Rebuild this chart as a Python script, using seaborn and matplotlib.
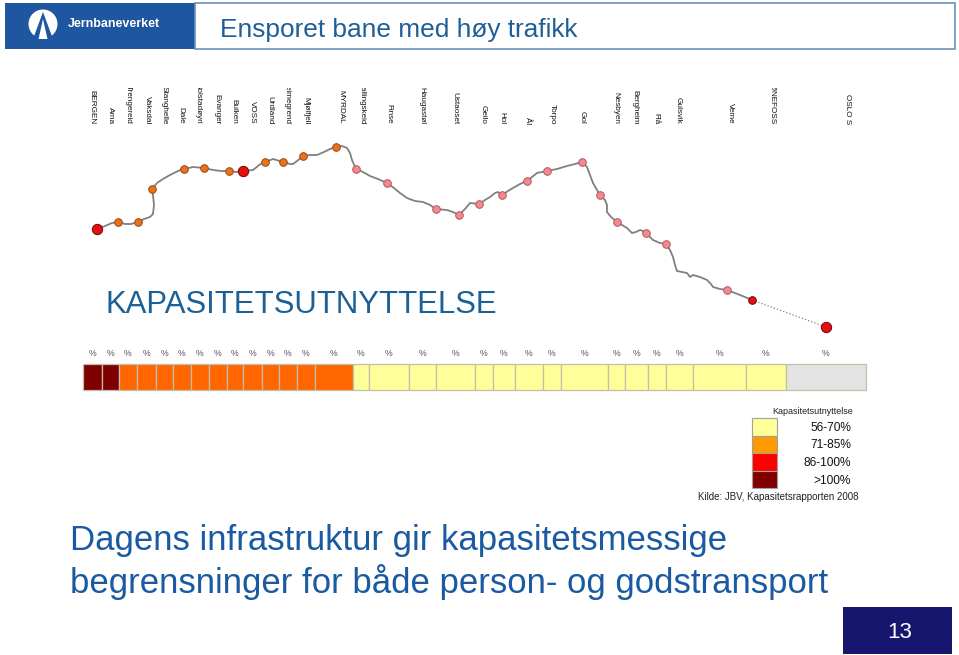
import matplotlib
matplotlib.use("Agg")
import matplotlib.pyplot as plt
import seaborn as sns
import pandas as pd
from matplotlib import font_manager as fm
from matplotlib.patches import Rectangle, Circle, Polygon

# ---------------- data ----------------
stations = ["BERGEN", "Arna", "Trengereid", "Vaksdal", "Stanghelle", "Dale",
            "Bolstadøyri", "Evanger", "Bulken", "VOSS", "Urdland", "Reimegrend",
            "Mjølfjell", "MYRDAL", "Hallingskeid", "Finse", "Haugastøl", "Ustaoset",
            "Geilo", "Hol", "Ål", "Torpo", "Gol", "Nesbyen", "Bergheim", "Flå",
            "Gulsvik", "Veme", "HØNEFOSS", "OSLO S"]
station_pos = [92, 110, 128, 147, 164, 181, 198, 217, 234, 252, 270, 287, 306,
               341, 362, 389, 422, 455, 483, 502, 527, 552, 582, 616, 635, 656,
               678, 730, 772, 848]

# stops on the profile (route position, profile level)
stop_x = [97, 118, 138, 152, 184, 204, 229, 243, 265, 283, 303, 336, 356, 387,
          436, 459, 479, 502, 527, 547, 582, 600, 617, 646, 666, 727, 752, 826]
stop_y = [229, 222, 222, 189, 169, 168, 171, 171, 162, 162, 156, 147, 169, 183,
          209, 215, 204, 195, 181, 171, 162, 195, 222, 233, 244, 290, 300, 327]
stop_level = (["86-100%"] + ["71-85%"] * 6 + ["86-100%"] + ["71-85%"] * 4 +
              ["56-70%"] * 14 + ["86-100%"] * 2)
stop_major = [1, 0, 0, 0, 0, 0, 0, 1, 0, 0, 0, 0] + [0] * 14 + [0, 1]

# profile curve
prof_x = [97, 105, 112, 118, 125, 131, 138, 144, 150, 153, 154, 153, 152, 157, 163,
          170, 178, 184, 193, 204, 213, 221, 229, 236, 243, 253, 258, 262, 265, 273,
          283, 290, 293, 297, 303, 310, 317, 324, 330, 336, 342, 347, 350, 352, 356,
          363, 370, 378, 387, 394, 400, 407, 415, 423, 430, 436, 447, 453, 459, 465,
          470, 479, 485, 490, 495, 498, 502, 508, 513, 520, 527, 532, 537, 547, 557,
          567, 575, 582, 587, 590, 593, 597, 600, 605, 607, 607, 611, 617, 622, 627,
          632, 636, 640, 643, 646, 650, 653, 660, 666, 670, 673, 675, 677, 682, 687,
          690, 693, 700, 707, 711, 713, 720, 727, 740, 752]
prof_y = [229, 226, 223, 222, 224, 224, 222, 219, 217, 214, 205, 195, 189, 183, 179,
          175, 171, 169, 167, 168, 170, 171, 171, 172, 171, 170, 166, 163, 162, 159,
          162, 164, 164, 161, 156, 155, 155, 152, 149, 147, 146, 148, 153, 160, 169,
          172, 176, 179, 183, 188, 193, 198, 201, 202, 205, 209, 210, 212, 215, 209,
          203, 204, 200, 197, 193, 192, 195, 191, 188, 184, 181, 177, 173, 171, 169,
          166, 164, 162, 167, 175, 183, 190, 195, 200, 205, 212, 217, 222, 225, 228,
          233, 232, 230, 231, 233, 237, 240, 243, 244, 250, 257, 265, 271, 272, 273,
          277, 275, 277, 280, 284, 287, 289, 290, 295, 300]
dotted_x = [752, 826]
dotted_y = [300, 327]

# capacity bar segments
seg_edges = [83, 102, 119, 137, 156, 173, 191, 209, 227, 243, 262, 279, 297, 315,
             353, 369, 409, 436, 475, 493, 515, 543, 561, 608, 625, 648, 666, 693,
             746, 786, 866]
seg_class = [">100%"] * 2 + ["71-85%"] * 12 + ["56-70%"] * 15 + ["ukjent"]

legend_labels = ["56-70%", "71-85%", "86-100%", ">100%"]

# ---------------- style ----------------
sns.set_theme(style="white")
plt.rcParams["font.family"] = ["Liberation Sans", "DejaVu Sans"]


def has_font(name):
    try:
        fm.findfont(fm.FontProperties(family=name), fallback_to_default=False)
        return True
    except Exception:
        return False


NARROW_OK = has_font("Liberation Sans Narrow")
NARROW = (["Liberation Sans Narrow", "Liberation Sans", "DejaVu Sans"] if NARROW_OK
          else ["Liberation Sans", "DejaVu Sans"])

BLUE_HEAD = "#1E56A0"
BLUE_TXT = "#1F5E96"
BLUE_BIG = "#1A5AA0"
bar_colors = {">100%": "#7F0000", "71-85%": "#FF6600", "56-70%": "#FFFF99",
              "86-100%": "#FF0000", "ukjent": "#E3E3E3"}
leg_colors = {"56-70%": "#FFFF99", "71-85%": "#FF9900", "86-100%": "#FF0000",
              ">100%": "#800000"}
stop_fill = {"86-100%": "#E31010", "71-85%": "#E8731E", "56-70%": "#F08A90"}
stop_edge = {"86-100%": "#7A0000", "71-85%": "#9A4510", "56-70%": "#B85560"}

fig = plt.figure(figsize=(9.59, 6.55), dpi=100)
fig.patch.set_facecolor("white")
ax = fig.add_axes([0, 0, 1, 1])
renderer = fig.canvas.get_renderer()


def fit(t, target_w):
    bb = t.get_window_extent(renderer)
    t.set_fontsize(t.get_fontsize() * target_w / bb.width)
    return t

# ---------------- header ----------------
ax.add_patch(Rectangle((5, 3), 190, 46, facecolor=BLUE_HEAD, edgecolor="none"))
ax.add_patch(Rectangle((195, 3), 760, 46, fill=False, edgecolor="#6A93BC", lw=1.2))
ax.add_patch(Circle((43, 24), 14.5, facecolor="white", edgecolor="none"))
ax.add_patch(Polygon([(43, 12), (33, 39), (53, 39)], closed=True,
                     facecolor=BLUE_HEAD, edgecolor="none"))
ax.add_patch(Polygon([(43, 19), (38.5, 39), (47.5, 39)], closed=True,
                     facecolor="white", edgecolor="none"))
ax.add_patch(Rectangle((27, 38.5), 34, 6, facecolor=BLUE_HEAD, edgecolor="none"))
t = ax.text(68, 24, "Jernbaneverket", color="white", fontsize=9, fontweight="bold",
            va="center", ha="left")
fit(t, 92)
t = ax.text(220, 37, "Ensporet bane med høy trafikk", color=BLUE_TXT, fontsize=18,
            va="baseline", ha="left")
fit(t, 358)

# ---------------- profile ----------------
sns.lineplot(x=prof_x, y=prof_y, sort=False, estimator=None, color="#808080",
             lw=1.3, ax=ax)
sns.lineplot(x=dotted_x, y=dotted_y, sort=False, estimator=None, color="#808080",
             lw=0.9, linestyle=":", ax=ax)
stops = pd.DataFrame({"x": stop_x, "y": stop_y, "level": stop_level,
                      "major": stop_major})
for (lvl, major), g in stops.groupby(["level", "major"]):
    sns.scatterplot(data=g, x="x", y="y", color=stop_fill[lvl],
                    edgecolor=stop_edge[lvl], linewidth=0.7,
                    s=55 if major else 30, zorder=5, ax=ax, legend=False)

# station labels (clipped like the reference)
ax_lab = fig.add_axes([0, 1 - 135 / 655, 1, (135 - 87.5) / 655])
ax_lab.set_xlim(0, 959)
ax_lab.set_ylim(135, 87.5)
ax_lab.axis("off")
for name, xp in zip(stations, station_pos):
    ax_lab.text(xp, 124, name, rotation=270, rotation_mode="anchor", ha="right",
                va="center", fontsize=6.9 if NARROW_OK else 5.9, family=NARROW,
                color="#111111", clip_on=True)

t = ax.text(105, 313, "KAPASITETSUTNYTTELSE", color="#1B6096", fontsize=28,
            family=NARROW, va="baseline", ha="left")
fit(t, 392)

# ---------------- capacity bar ----------------
lefts = seg_edges[:-1]
widths = [b - a for a, b in zip(seg_edges[:-1], seg_edges[1:])]
ax.barh(y=[377] * len(lefts), width=widths, left=lefts, height=26,
        color=[bar_colors[c] for c in seg_class], edgecolor="#C2BFA8", lw=0.9)
for a, w in zip(lefts, widths):
    ax.text(a + w / 2, 354, "%", fontsize=6.3, color="#555555", ha="center",
            va="center")

# ---------------- legend ----------------
ax.text(772, 412, "Kapasitetsutnyttelse", fontsize=6.5, color="#222222",
        ha="left", va="center")
leg_top = [418, 435.5, 453, 470.5]
ax.barh(y=[v + 8.75 for v in leg_top], width=[25] * 4, left=[752] * 4, height=17.5,
        color=[leg_colors[c] for c in legend_labels], edgecolor="#A0A0A0", lw=0.8)
for lab, v in zip(legend_labels, leg_top):
    ax.text(851, v + 10, lab, fontsize=8.6, color="#111111", ha="right", va="center")
t = ax.text(698, 497, "Kilde: JBV, Kapasitetsrapporten 2008", fontsize=6.3,
            color="#222222", ha="left", va="center")
fit(t, 161)

# ---------------- main statement ----------------
t1 = ax.text(70, 550, "Dagens infrastruktur gir kapasitetsmessige", color=BLUE_BIG,
             fontsize=26, ha="left", va="baseline")
t2 = ax.text(70, 593, "begrensninger for både person- og godstransport",
             color=BLUE_BIG, fontsize=26, ha="left", va="baseline")
fit(t2, 758)
t1.set_fontsize(t2.get_fontsize())

# ---------------- page number ----------------
ax.add_patch(Rectangle((843, 607), 109, 47, facecolor="#16166E", edgecolor="none"))
ax.text(900, 632, "13", color="white", fontsize=16, ha="center", va="center")

ax.set_xlim(0, 959)
ax.set_ylim(655, 0)
ax.axis("off")

fig.savefig("out.png", dpi=100, facecolor="white")
